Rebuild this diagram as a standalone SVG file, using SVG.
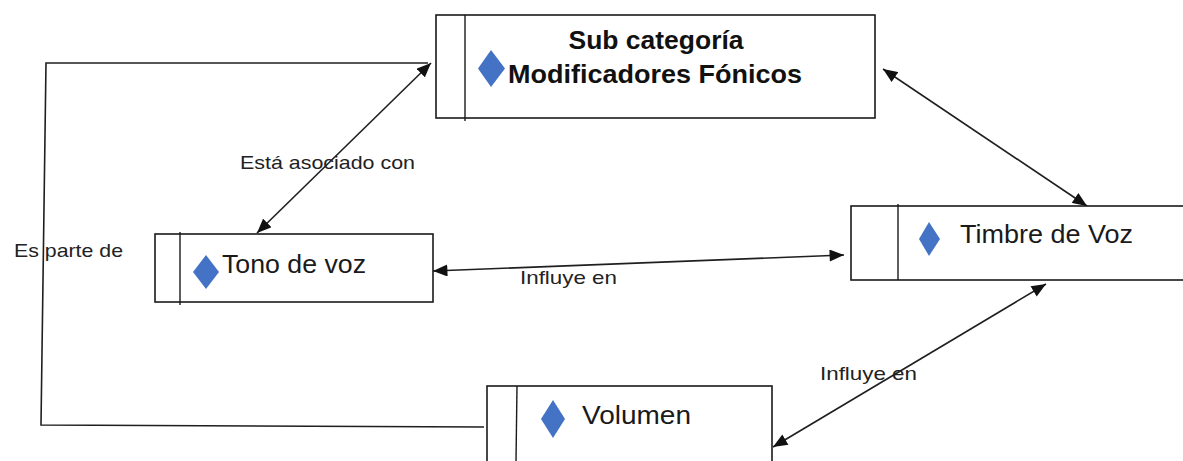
<svg xmlns="http://www.w3.org/2000/svg" width="1183" height="461" viewBox="0 0 1183 461">
<style>
.box{fill:#fff;stroke:#1a1a1a;stroke-width:1.6}
.div{stroke:#1a1a1a;stroke-width:1.4;fill:none}
.dia{fill:#4472C4}
.t{font-family:"Liberation Sans",Arial,sans-serif;fill:#1a1a1a}
.tb{font-family:"Liberation Sans",Arial,sans-serif;font-weight:bold;fill:#111}
.lbl{font-family:"Liberation Sans",Arial,sans-serif;font-size:19px;fill:#222}
.con{stroke:#1f1f1f;stroke-width:1.6;fill:none}
</style>
<defs>
<marker id="ah" viewBox="0 0 12 10" refX="12" refY="5" markerWidth="15" markerHeight="12" markerUnits="userSpaceOnUse" orient="auto-start-reverse">
<path d="M0,0 L12,5 L0,10 Z" fill="#111"/>
</marker>
</defs>
<g id="connectors">
<polyline class="con" points="484,427 41,425 46,63 428,63"/>
<line class="con" x1="431" y1="63" x2="257" y2="233" marker-start="url(#ah)" marker-end="url(#ah)"/>
<line class="con" x1="883" y1="69" x2="1087" y2="206" marker-start="url(#ah)" marker-end="url(#ah)"/>
<line class="con" x1="433" y1="271" x2="844" y2="255" marker-start="url(#ah)" marker-end="url(#ah)"/>
<line class="con" x1="1046" y1="284" x2="773" y2="447" marker-start="url(#ah)" marker-end="url(#ah)"/>
<text class="lbl" x="240" y="169" textLength="175" lengthAdjust="spacingAndGlyphs">Está asociado con</text>
<text class="lbl" x="14" y="257" textLength="109" lengthAdjust="spacingAndGlyphs">Es parte de</text>
<text class="lbl" x="520" y="284" textLength="97" lengthAdjust="spacingAndGlyphs">Influye en</text>
<text class="lbl" x="820" y="380" textLength="97" lengthAdjust="spacingAndGlyphs">Influye en</text>
</g>
<g id="node-subcategoria">
<rect class="box" x="436" y="15" width="439" height="103"/>
<line class="div" x1="465" y1="15" x2="465" y2="121"/>
<polygon class="dia" points="491,50 505,68.5 491,87 478,68.5"/>
<text class="tb" x="656" y="49" font-size="26" text-anchor="middle" textLength="175" lengthAdjust="spacingAndGlyphs">Sub categoría</text>
<text class="tb" x="508" y="83" font-size="26" textLength="294" lengthAdjust="spacingAndGlyphs">Modificadores Fónicos</text>
</g>
<g id="node-tono">
<rect class="box" x="155" y="234" width="278" height="68"/>
<line class="div" x1="180" y1="232" x2="180" y2="305"/>
<polygon class="dia" points="206,255 219,272 206,289 193,272"/>
<text class="t" x="222" y="273" font-size="26" textLength="144" lengthAdjust="spacingAndGlyphs">Tono de voz</text>
</g>
<g id="node-timbre">
<rect class="box" x="851" y="206" width="345" height="74"/>
<line class="div" x1="898" y1="204" x2="898" y2="280"/>
<polygon class="dia" points="929,222 940,239 929,256 919,239"/>
<text class="t" x="960" y="243" font-size="26" textLength="173" lengthAdjust="spacingAndGlyphs">Timbre de Voz</text>
</g>
<g id="node-volumen">
<rect class="box" x="487" y="386" width="285" height="90"/>
<line class="div" x1="517" y1="386" x2="516" y2="461"/>
<polygon class="dia" points="553,400 565,419 553,438 541,419"/>
<text class="t" x="582" y="424" font-size="26" textLength="109" lengthAdjust="spacingAndGlyphs">Volumen</text>
</g>
</svg>
